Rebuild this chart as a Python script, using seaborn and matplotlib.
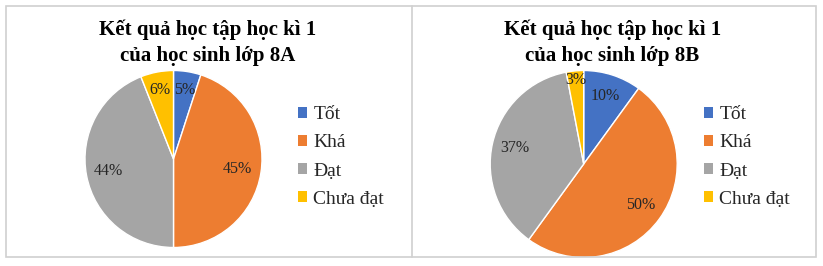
import matplotlib
matplotlib.use("Agg")
import matplotlib.pyplot as plt
from matplotlib.patches import Patch, Rectangle
from matplotlib.lines import Line2D
import numpy as np
import seaborn as sns

# Data
categories = ["Tốt", "Khá", "Đạt", "Chưa đạt"]
class_8a = [5, 45, 44, 6]
class_8b = [10, 50, 37, 3]
titles = ["Kết quả học tập học kì 1\ncủa học sinh lớp 8A",
          "Kết quả học tập học kì 1\ncủa học sinh lớp 8B"]

sns.set_theme(style="white")
plt.rcParams["font.family"] = ["Liberation Serif", "DejaVu Serif"]
palette = sns.color_palette(["#4472C4", "#ED7D31", "#A5A5A5", "#FFC000"])

W, H = 823, 266
fig = plt.figure(figsize=(W / 100, H / 100), dpi=100)
fig.patch.set_facecolor("white")

# Outer frame with a divider between the two panels
frame_kw = dict(color="#D0D0D0", lw=1.2, transform=fig.transFigure)
fig.add_artist(Rectangle((6 / W, 1 - 257 / H), 810 / W, 251 / H, fill=False,
                         edgecolor="#D0D0D0", lw=1.2, transform=fig.transFigure))
fig.add_artist(Line2D([412 / W, 412 / W], [1 - 6 / H, 1 - 257 / H], **frame_kw))


def draw_panel(values, title, cx, cy, r, title_x, legend_x, label_r):
    ax = fig.add_axes([(cx - r) / W, (H - cy - r) / H, 2 * r / W, 2 * r / H])
    ax.pie(values, colors=palette, startangle=90, counterclock=False,
           radius=1, wedgeprops=dict(edgecolor="white", linewidth=1.0))
    total = float(sum(values))
    start = 90.0
    for v, d in zip(values, label_r):
        mid = np.deg2rad(start - 360.0 * v / total / 2)
        ax.text(d * np.cos(mid), d * np.sin(mid), f"{v}%", ha="center", va="center",
                fontsize=11.5, color="#262626")
        start -= 360.0 * v / total
    ax.set_xlim(-1, 1)
    ax.set_ylim(-1, 1)
    ax.set_axis_off()

    fig.text(title_x / W, 1 - 61 / H, title, ha="center", va="baseline",
             fontsize=15, fontweight="bold", color="black", linespacing=1.42)

    handles = [Patch(facecolor=c, edgecolor="none") for c in palette]
    fig.legend(handles, categories, loc="upper left",
               bbox_to_anchor=(legend_x / W, 1 - 106 / H), frameon=False,
               fontsize=14, handlelength=0.5, handleheight=0.5,
               handletextpad=0.32, labelspacing=0.58, borderpad=0, borderaxespad=0)


draw_panel(class_8a, titles[0], 173.5, 159, 88.5, 207.5, 297.5,
           [0.79, 0.73, 0.75, 0.79])
draw_panel(class_8b, titles[1], 583.7, 164, 93.5, 612.5, 703.5,
           [0.76, 0.755, 0.76, 0.90])

fig.savefig("out.png", dpi=100, facecolor="white")
